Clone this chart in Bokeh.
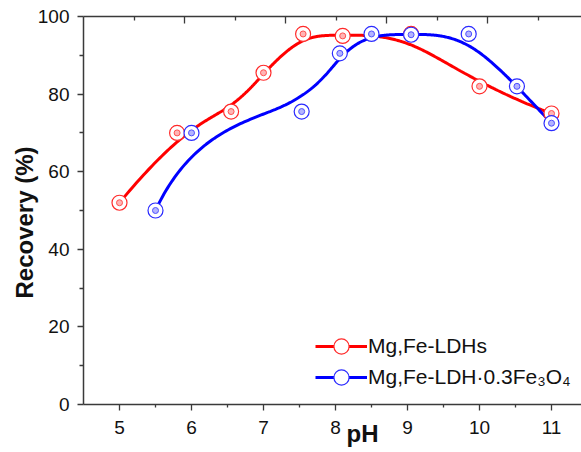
import numpy as np
from bokeh.plotting import figure
from bokeh.models import (Range1d, LinearAxis, FixedTicker, Legend, LegendItem,
                          CustomJSTickFormatter)
from bokeh.embed import file_html
from bokeh.resources import INLINE

# ---- data ----
ph_ldh = [5.0, 5.8, 6.55, 7.0, 7.55, 8.1, 9.05, 10.0, 11.0]
rec_ldh = [52.0, 70.0, 75.5, 85.5, 95.5, 95.0, 95.5, 82.0, 75.0]

ph_fe = [5.5, 6.0, 7.53, 8.06, 8.5, 9.05, 9.85, 10.52, 11.0]
rec_fe = [50.0, 70.0, 75.5, 90.5, 95.5, 95.3, 95.5, 82.0, 72.5]

x_ticks = [5, 6, 7, 8, 9, 10, 11]
x_minor = [5.5, 6.5, 7.5, 8.5, 9.5, 10.5]
y_ticks = [0, 20, 40, 60, 80, 100]
y_minor = [10, 30, 50, 70, 90]
top_ticks = [1, 2, 3, 4]
top_minor = [0.5, 1.5, 2.5, 3.5, 4.5]

label_ldh = "Mg,Fe-LDHs"
label_fe = "Mg,Fe-LDH\u00b70.3Fe\u2083O\u2084"
x_title = "pH"
y_title = "Recovery (%)"

FONT = "Liberation Sans"


def bspline(xs, ys, num=400):
    """Clamped cubic B-spline using the data points as control points."""
    P = np.column_stack([xs, ys]).astype(float)
    m = len(P)
    k = 3
    t = np.concatenate([np.zeros(k), np.linspace(0, 1, m - k + 1), np.ones(k)])
    u = np.linspace(0, 1, num)

    def basis(i, kk):
        if kk == 0:
            res = ((t[i] <= u) & (u < t[i + 1])).astype(float)
            if t[i + 1] == 1.0 and t[i] < 1.0:
                res[u == 1.0] = 1.0
            return res
        d1 = t[i + kk] - t[i]
        d2 = t[i + kk + 1] - t[i + 1]
        a = (u - t[i]) / d1 * basis(i, kk - 1) if d1 > 0 else 0.0
        b = (t[i + kk + 1] - u) / d2 * basis(i + 1, kk - 1) if d2 > 0 else 0.0
        return a + b

    N = np.array([basis(i, k) for i in range(m)])
    c = N.T @ P
    return c[:, 0], c[:, 1]


W, H = 581, 452
p = figure(width=W, height=H, output_backend="svg", toolbar_location=None,
           x_range=Range1d(4.5, 4.5 + 498 / 72), y_range=Range1d(0, 100),
           min_border_left=83, min_border_right=0, min_border_top=16,
           min_border_bottom=48, x_axis_location=None, y_axis_location=None)
p.outline_line_color = None
p.xgrid.visible = False
p.ygrid.visible = False
p.background_fill_color = "white"
p.border_fill_color = "white"

AX = "#3a3a3a"


def style_axis(ax):
    ax.axis_line_color = AX
    ax.axis_line_width = 1.5
    ax.major_tick_line_color = AX
    ax.minor_tick_line_color = AX
    ax.major_tick_line_width = 1.3
    ax.minor_tick_line_width = 1.3
    ax.major_label_text_font = FONT
    ax.major_label_text_font_size = "19px"
    ax.major_label_text_color = "#111111"
    ax.axis_label_text_font = FONT
    ax.axis_label_text_font_size = "24px"
    ax.axis_label_text_font_style = "bold"
    ax.axis_label_text_color = "#111111"


xb = LinearAxis(ticker=FixedTicker(ticks=x_ticks, minor_ticks=x_minor))
style_axis(xb)
xb.major_tick_out = 6
xb.major_tick_in = 0
xb.minor_tick_out = 3
xb.minor_tick_in = 0
xb.major_label_standoff = 10
xb.axis_label = "\u2003\u2003\u2002" + x_title
xb.axis_label_standoff = -17
p.add_layout(xb, "below")

yl = LinearAxis(ticker=FixedTicker(ticks=y_ticks, minor_ticks=y_minor))
style_axis(yl)
yl.major_tick_out = 6
yl.major_tick_in = 0
yl.minor_tick_out = 4
yl.minor_tick_in = 0
yl.major_label_standoff = 8
yl.axis_label = y_title + "\u2003"
yl.axis_label_standoff = -3
p.add_layout(yl, "left")

p.extra_x_ranges = {"top": Range1d(0, 498 / 101)}
xt = LinearAxis(x_range_name="top", ticker=FixedTicker(ticks=top_ticks, minor_ticks=top_minor),
                formatter=CustomJSTickFormatter(code="return ''"))
style_axis(xt)
xt.major_tick_in = 7
xt.major_tick_out = 0
xt.minor_tick_in = 4
xt.minor_tick_out = 0
xt.major_label_standoff = 0
p.add_layout(xt, "above")

RED = "#ff0000"
BLUE = "#0000ff"

cx, cy = bspline(ph_ldh, rec_ldh)
l1 = p.line(cx, cy, line_color=RED, line_width=3)
cx2, cy2 = bspline(ph_fe, rec_fe)
l2 = p.line(cx2, cy2, line_color=BLUE, line_width=3)

m1 = p.scatter(ph_ldh, rec_ldh, size=15, marker="circle", fill_color="white",
               line_color="#ff2a2a", line_width=1.2)
p.scatter(ph_ldh, rec_ldh, size=6, marker="circle", fill_color="#ffb4b4",
          line_color="#ff5050", line_width=1)
m2 = p.scatter(ph_fe, rec_fe, size=15, marker="circle", fill_color="white",
               line_color="#2a2aff", line_width=1.2)
p.scatter(ph_fe, rec_fe, size=6, marker="circle", fill_color="#b4b4ff",
          line_color="#5050ff", line_width=1)


def make_legend(item, loc):
    return Legend(items=[item], location=loc, glyph_width=52, glyph_height=38,
                  spacing=0, padding=0, margin=0, label_standoff=1,
                  label_text_font=FONT, label_text_font_size="21px",
                  label_text_color="#111111", border_line_color=None,
                  background_fill_alpha=0)


p.add_layout(make_legend(LegendItem(label=label_ldh, renderers=[l1, m1]), (232, 39)), "center")
p.add_layout(make_legend(LegendItem(label=label_fe, renderers=[l2, m2]), (232, 8)), "center")

open("out.html", "w").write(file_html(p, INLINE))
